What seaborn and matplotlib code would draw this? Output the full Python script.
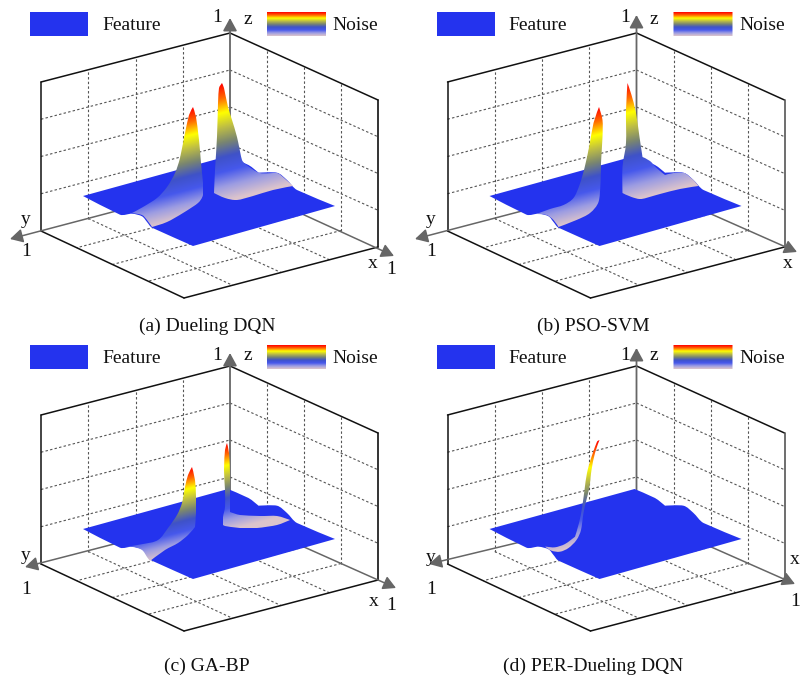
"""Four 3D-looking feature/noise surfaces drawn on one flat axes."""
import numpy as np
import matplotlib
matplotlib.use("Agg")
import matplotlib.pyplot as plt
import seaborn as sns
from matplotlib.patches import PathPatch
from matplotlib.path import Path

sns.set_theme(style="white")
plt.rcParams["font.family"] = ["Liberation Serif", "DejaVu Serif"]

# corners of the box, image coordinates
BACK_FLOOR = (230, 181)
RIGHT_FLOOR = (378, 247)
LEFT_FLOOR = (41, 231)
FRONT_FLOOR = (184, 298)
BACK_TOP = (230, 33)
RIGHT_TOP = (378, 100)
LEFT_TOP = (41, 82)
grid_fracs = [0.25, 0.5, 0.75]

titles = ["(a) Dueling DQN", "(b) PSO-SVM", "(c) GA-BP", "(d) PER-Dueling DQN"]
offset_x = [0, 406.5, 0, 406.5]
offset_y = [0, 0, 333, 333]
title_x = [207, 593, 207, 593]
title_y = [326, 326, 666, 666]

# axis arrow tips per panel
tips_x = [(394, 256), (390.5, 252), (396, 255), (388.5, 251)]
tips_y = [(10, 239), (8.5, 239), (25, 234), (22.5, 231)]
tips_z = [(230, 18), (230, 15), (230, 20), (230, 15)]
right_edge_colors = ["#111111", "#555555", "#111111", "#555555"]

# axis text per panel: (x, y) or None when the label is absent
label_x = [(373, 263), (381.5, 263), (374, 268), (388.5, 227)]
label_x1 = [(391, 270), None, (391, 273), (388.5, 269)]
label_y = [(26, 220), (24.5, 219), (26, 223), (24.5, 224)]
label_y1 = [(26, 252), (24.5, 252), (26, 256), (24.5, 256)]
label_z1 = [(217, 18), (219, 18), (217, 22), (219, 22)]
label_z = [(248, 20), (247.5, 20), (248, 23), (247.5, 23)]

feature_color = "#2433EE"
axis_gray = "#666666"
grid_color = "#555555"
noise_colors = ["#FF0000", "#FF6A00", "#FFFF00", "#BDBD45", "#7A8670",
                "#3F52C8", "#4658EC", "#9C9CE2", "#DCC4CC"]

plane_x = [83, 120, 132, 142, 147, 152, 193, 335, 297, 287, 277, 258.5, 248.5, 228]
plane_y = [196, 214.7, 213.7, 216.3, 222, 227.7, 246, 206, 190, 180, 172.7, 172.7, 165, 156]

# ridge outlines and the height (px) the colour ramp covers
ridges = [
    [
        ([132, 143, 157, 167, 175, 180, 185, 189, 193, 196, 199, 201, 203, 203, 198, 183, 167, 152, 147, 142],
         [213, 207, 198, 187, 173, 158, 133, 115, 107, 117, 140, 163, 183, 195, 203, 213, 222, 227, 220, 215],
         109),
        ([214, 215, 217, 218, 219, 222, 224, 228, 232, 237, 242, 248, 260, 277, 283, 293, 273, 253, 237, 225],
         [193, 170, 137, 103, 88, 83, 88, 107, 120, 137, 160, 166, 173, 173, 177, 186, 190, 196, 200, 198],
         119),
    ],
    [
        ([130, 143.5, 157, 167, 173, 178, 183, 187, 192.5, 196, 196, 194.5, 194, 192, 183.5, 170, 152, 147, 140],
         [214, 209, 205, 198, 185, 168, 145, 123, 107, 120, 137, 163, 183, 202, 213, 220, 227, 220, 215],
         109),
        ([216, 216, 219.5, 219.5, 221, 225, 229.5, 233, 236, 243.5, 250, 258.5, 267, 278.5, 287, 292, 273.5, 253.5, 235, 225],
         [193, 167, 143, 110, 83, 95, 113, 137, 157, 161, 168, 175, 173, 173, 180, 186, 189, 194, 199, 197],
         119),
    ],
    [
        ([125, 143, 158, 168, 177, 182, 185, 188, 192, 195, 196, 196, 195, 188, 178, 165, 150, 147, 142, 133],
         [214, 211, 207, 195, 182, 170, 154, 142, 134, 147, 164, 180, 194, 202, 210, 217, 228, 224, 217, 214],
         83),
        ([223, 223, 225, 225, 224, 225, 227, 229, 230, 230, 230, 240, 260, 277, 290, 277, 257, 240, 225],
         [192, 184, 174, 157, 137, 117, 110, 120, 140, 164, 179, 182, 183, 183, 187, 192, 195, 195, 193],
         88),
    ],
    [
        ([138.5, 145, 153.5, 162, 170, 174.5, 177, 179.5, 183, 185, 188.5, 193, 190.5, 185, 180.5, 178, 175.5, 172.5, 168.5, 158.5, 148.5, 140],
         [213.7, 217.7, 218.7, 215, 207, 197, 180, 168.7, 153.7, 137, 120, 107, 108.7, 123.7, 140, 157, 175, 190, 203.7, 211, 214.3, 213.7],
         100),
    ],
]

noise_cmap = sns.blend_palette(noise_colors, n_colors=256, as_cmap=True)


def lerp(a, b, t):
    return (a[0] + (b[0] - a[0]) * t, a[1] + (b[1] - a[1]) * t)


def floor_pt(x, y):
    return lerp(lerp(BACK_FLOOR, RIGHT_FLOOR, x), lerp(LEFT_FLOOR, FRONT_FLOOR, x), y)


def draw_line(ax, p, q, dx, dy, color, lw, ls="-", zorder=2):
    sns.lineplot(x=[p[0] + dx, q[0] + dx], y=[p[1] + dy, q[1] + dy], ax=ax, sort=False,
                 estimator=None, errorbar=None, color=color, lw=lw, ls=ls, zorder=zorder,
                 legend=False)


def outline_path(xs, ys):
    # closed curve through the read points, keeping hard corners where the edge turns sharply
    pts = np.column_stack([xs, ys]).astype(float)
    n = len(pts)
    tangents = np.zeros_like(pts)
    for k in range(n):
        a = pts[k] - pts[k - 1]
        b = pts[(k + 1) % n] - pts[k]
        la, lb = np.linalg.norm(a), np.linalg.norm(b)
        if a @ b / (la * lb) > 0.8:
            chord = a + b
            tangents[k] = chord / np.linalg.norm(chord) * min(la, lb) / 3
    verts = [pts[0]]
    codes = [Path.MOVETO]
    for k in range(n):
        nxt = (k + 1) % n
        verts += [pts[k] + tangents[k], pts[nxt] - tangents[nxt], pts[nxt]]
        codes += [Path.CURVE4] * 3
    return Path(np.array(verts), codes)


def draw_gradient(ax, xs, ys, height, tilt=0.26, zorder=4):
    # colour follows height above the floor, tilted along the y axis direction
    left, right = np.floor(min(xs)), np.ceil(max(xs))
    top, bottom = np.floor(min(ys)), np.ceil(max(ys))
    gx = np.linspace(left, right, int(right - left) * 3 + 2)
    gy = np.linspace(top, bottom, int(bottom - top) * 3 + 2)
    xx, yy = np.meshgrid(gx, gy)
    i = int(np.argmin(ys))
    tt = (yy - ys[i] + tilt * (xx - xs[i])) / height
    im = ax.imshow(tt, extent=(left, right, bottom, top), origin="upper", cmap=noise_cmap,
                   vmin=0, vmax=1, aspect="auto", interpolation="bilinear", zorder=zorder)
    patch = PathPatch(outline_path(xs, ys), transform=ax.transData, fc="none", ec="none")
    ax.add_patch(patch)
    im.set_clip_path(patch)


def draw_panel(ax, i):
    dx, dy = offset_x[i], offset_y[i]
    dash = (0, (2.2, 2))

    # walls and floor grid
    for f in grid_fracs:
        draw_line(ax, floor_pt(0, f), lerp(BACK_TOP, LEFT_TOP, f), dx, dy, grid_color, 0.8, dash, 1)
        draw_line(ax, floor_pt(f, 0), lerp(BACK_TOP, RIGHT_TOP, f), dx, dy, grid_color, 0.8, dash, 1)
        back = lerp(BACK_FLOOR, BACK_TOP, f)
        draw_line(ax, lerp(LEFT_FLOOR, LEFT_TOP, f), back, dx, dy, grid_color, 0.8, dash, 1)
        draw_line(ax, back, lerp(RIGHT_FLOOR, RIGHT_TOP, f), dx, dy, grid_color, 0.8, dash, 1)
        draw_line(ax, floor_pt(0, f), floor_pt(1, f), dx, dy, grid_color, 0.8, dash, 1)
        draw_line(ax, floor_pt(f, 0), floor_pt(f, 1), dx, dy, grid_color, 0.8, dash, 1)

    # black box edges
    draw_line(ax, LEFT_FLOOR, LEFT_TOP, dx, dy, "#111111", 1.1)
    draw_line(ax, LEFT_TOP, BACK_TOP, dx, dy, "#111111", 1.1)
    draw_line(ax, BACK_TOP, RIGHT_TOP, dx, dy, "#111111", 1.1)
    draw_line(ax, LEFT_FLOOR, FRONT_FLOOR, dx, dy, "#111111", 1.1)
    draw_line(ax, FRONT_FLOOR, RIGHT_FLOOR, dx, dy, "#111111", 1.1)
    draw_line(ax, RIGHT_FLOOR, RIGHT_TOP, dx, dy, right_edge_colors[i], 1.2)

    # gray axes with arrows
    for tip, lw in ((tips_x[i], 1.1), (tips_y[i], 1.1), (tips_z[i], 1.3)):
        ax.annotate("", xy=(tip[0] + dx, tip[1] + dy),
                    xytext=(BACK_FLOOR[0] + dx, BACK_FLOOR[1] + dy),
                    arrowprops=dict(arrowstyle="-|>,head_length=0.55,head_width=0.3",
                                    color=axis_gray, lw=lw, mutation_scale=14,
                                    shrinkA=0, shrinkB=0), zorder=2)

    # feature plane and noise ridges
    plane = PathPatch(outline_path(np.array(plane_x) + dx, np.array(plane_y) + dy),
                      fc=feature_color, ec="none", zorder=3)
    ax.add_patch(plane)
    for xs, ys, height in ridges[i]:
        draw_gradient(ax, np.array(xs) + dx, np.array(ys) + dy, height)

    # legend
    ax.fill([30 + dx, 88 + dx, 88 + dx, 30 + dx], [12 + dy, 12 + dy, 36 + dy, 36 + dy],
            color=feature_color, lw=0, zorder=3)
    ax.text(131.5 + dx, 25.5 + dy, "Feature", fontsize=14, ha="center", va="center", color="#111111")
    bar_x = [267 + dx, 326 + dx, 326 + dx, 267 + dx]
    bar_y = [12 + dy, 12 + dy, 36 + dy, 36 + dy]
    draw_gradient(ax, np.array(bar_x), np.array(bar_y), 24, tilt=0)
    ax.text(355.5 + dx, 25.5 + dy, "Noise", fontsize=14, ha="center", va="center", color="#111111")

    # axis letters
    for pos, txt in ((label_x[i], "x"), (label_x1[i], "1"), (label_y[i], "y"),
                     (label_y1[i], "1"), (label_z1[i], "1"), (label_z[i], "z")):
        if pos is not None:
            ax.text(pos[0] + dx, pos[1] + dy, txt, fontsize=14, ha="center", va="center",
                    color="#111111")
    ax.text(title_x[i], title_y[i], titles[i], fontsize=14, ha="center", va="center",
            color="#111111")


fig = plt.figure(figsize=(8.01, 6.77), dpi=100)
ax = fig.add_axes([0, 0, 1, 1])
for i in range(4):
    draw_panel(ax, i)
ax.set_xlim(0, 801)
ax.set_ylim(677, 0)
ax.axis("off")
fig.savefig("out.png", dpi=100)
plt.close()
